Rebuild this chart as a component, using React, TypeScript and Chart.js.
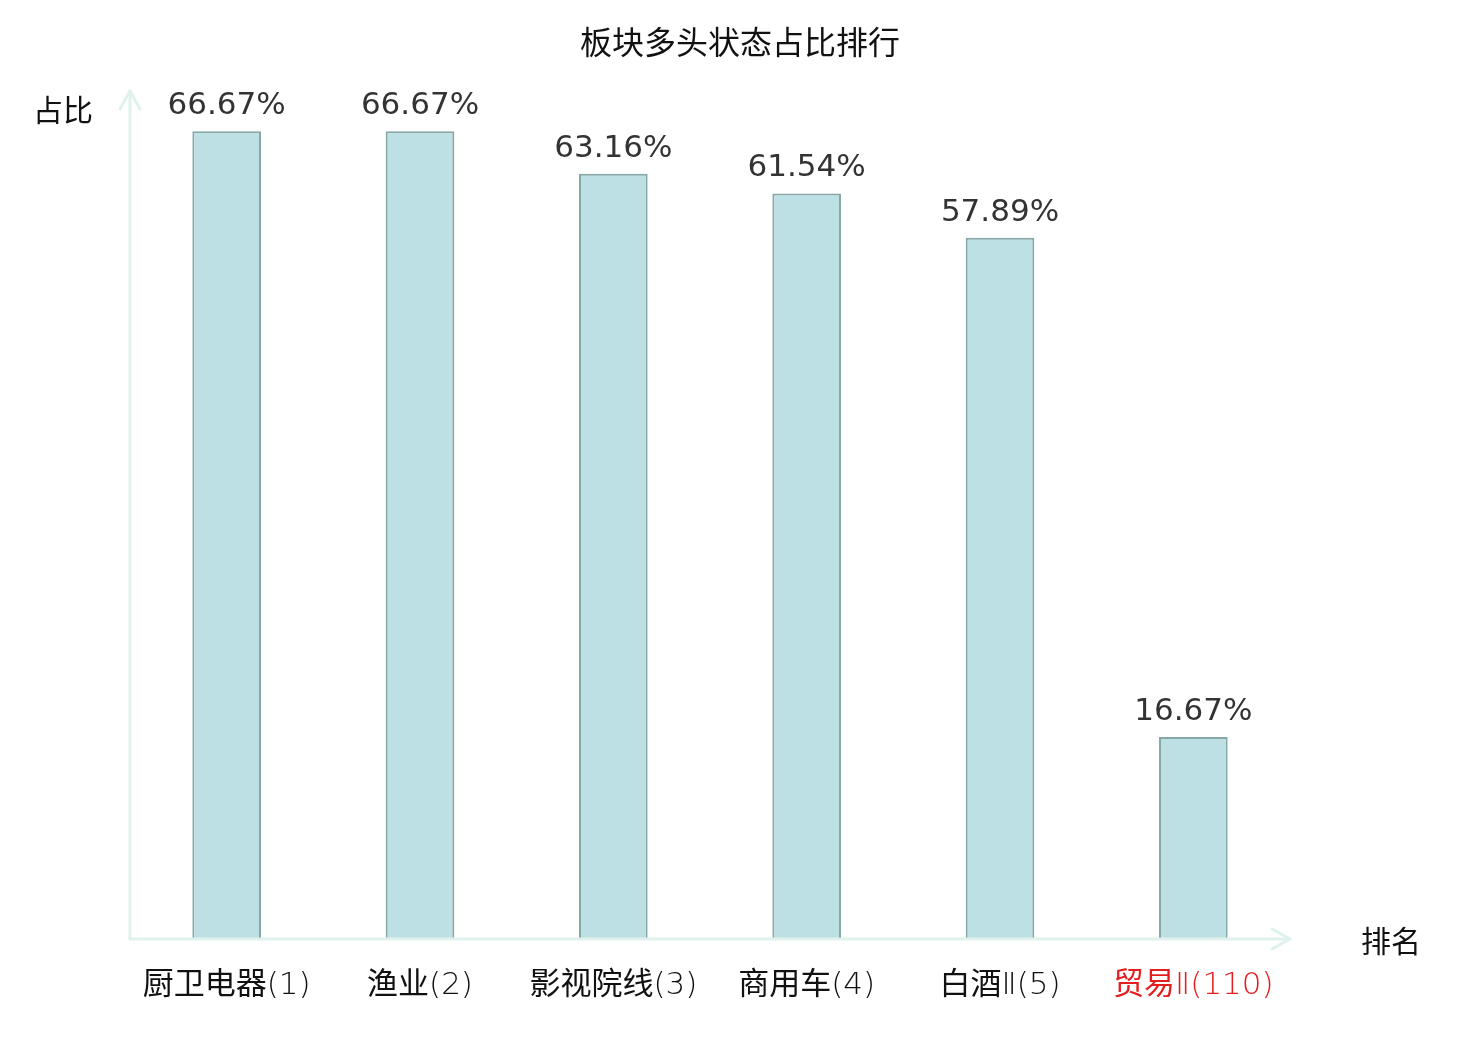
import { useEffect, useRef } from "react";
import { Chart, registerables } from "chart.js";
import type { ChartConfiguration, Plugin } from "chart.js";

Chart.register(...registerables);

const categories = ["厨卫电器(1)", "渔业(2)", "影视院线(3)", "商用车(4)", "白酒Ⅱ(5)", "贸易Ⅱ(110)"];
const shares = [66.67, 66.67, 63.16, 61.54, 57.89, 16.67];
const labelColors = ["#111", "#111", "#111", "#111", "#111", "#e41e1e"];

const CJK = "'Noto Sans CJK SC', 'DejaVu Sans', sans-serif";
const LATIN = "'DejaVu Sans', 'Noto Sans CJK SC', sans-serif";
const AXIS_COLOR = "#dff2ee";

// split a label into runs: ideographs in the CJK font, the rest in thin DejaVu
function runs(label: string) {
  const out: { text: string; cjk: boolean }[] = [];
  for (const ch of label) {
    const cjk = /[\u4e00-\u9fff]/.test(ch);
    const last = out[out.length - 1];
    if (last && last.cjk === cjk) last.text += ch;
    else out.push({ text: ch, cjk });
  }
  return out;
}

// title, axes with arrow heads, axis names, category labels and value labels
const decorPlugin: Plugin<"bar"> = {
  id: "decor",
  afterDatasetsDraw(chart) {
    const { ctx, chartArea, width } = chart;
    const { left, right, top, bottom } = chartArea;
    ctx.save();
    ctx.strokeStyle = AXIS_COLOR;
    ctx.lineWidth = 3;
    ctx.lineCap = "round";
    ctx.lineJoin = "round";
    ctx.beginPath();
    ctx.moveTo(left, bottom);
    ctx.lineTo(right, bottom);
    ctx.moveTo(left, bottom);
    ctx.lineTo(left, top);
    ctx.stroke();
    // arrows
    ctx.beginPath();
    ctx.moveTo(right - 18, bottom - 10);
    ctx.lineTo(right, bottom);
    ctx.lineTo(right - 18, bottom + 10);
    ctx.moveTo(left - 10, top + 18);
    ctx.lineTo(left, top);
    ctx.lineTo(left + 10, top + 18);
    ctx.stroke();

    ctx.fillStyle = "#111";
    ctx.textAlign = "center";
    ctx.textBaseline = "middle";
    ctx.font = `32px ${CJK}`;
    ctx.fillText("板块多头状态占比排行", width / 2, 42);
    ctx.font = `30px ${CJK}`;
    ctx.fillText("占比", left - 67, top + 19);
    ctx.fillText("排名", right + 101, bottom + 2);

    // category labels
    const xScale = chart.scales.x;
    const cjkFont = `31px ${CJK}`;
    const thinFont = `200 31px 'DejaVu Sans', sans-serif`;
    ctx.textAlign = "left";
    ctx.textBaseline = "alphabetic";
    categories.forEach((label, i) => {
      const parts = runs(label);
      let total = 0;
      const widths = parts.map((p) => {
        ctx.font = p.cjk ? cjkFont : thinFont;
        const w = ctx.measureText(p.text).width;
        total += w;
        return w;
      });
      let x = xScale.getPixelForTick(i) - total / 2;
      ctx.fillStyle = labelColors[i];
      parts.forEach((p, j) => {
        ctx.font = p.cjk ? cjkFont : thinFont;
        ctx.fillText(p.text, x, bottom + 55);
        x += widths[j];
      });
    });

    const meta = chart.getDatasetMeta(0);
    ctx.textAlign = "center";
    ctx.fillStyle = "#333";
    ctx.font = `31px ${LATIN}`;
    meta.data.forEach((bar, i) => {
      ctx.fillText(`${shares[i].toFixed(2)}%`, bar.x, bar.y - 17);
    });
    ctx.restore();
  },
};

export default function App() {
  const canvasRef = useRef<HTMLCanvasElement>(null);
  const chartRef = useRef<Chart<"bar"> | null>(null);

  useEffect(() => {
    if (!canvasRef.current) return;
    if (chartRef.current) chartRef.current.destroy();

    const config: ChartConfiguration<"bar"> = {
      type: "bar",
      data: {
        labels: categories,
        datasets: [
          {
            label: "占比",
            data: shares,
            backgroundColor: "#bce0e3",
            borderColor: "#87a6a6",
            borderWidth: 2,
            categoryPercentage: 1,
            barPercentage: 0.355,
          },
        ],
      },
      options: {
        responsive: true,
        maintainAspectRatio: false,
        animation: false,
        layout: { padding: { left: 130, right: 190, top: 91, bottom: 0 } },
        plugins: {
          legend: { display: false },
          tooltip: { enabled: false },
        },
        scales: {
          x: {
            grid: { display: false, drawTicks: false },
            border: { display: false },
            ticks: { display: false },
            afterFit(scale) {
              scale.height = 101;
            },
          },
          y: {
            display: false,
            min: 0,
            max: 70,
          },
        },
      },
      plugins: [decorPlugin],
    };

    chartRef.current = new Chart(canvasRef.current, config);
    return () => {
      chartRef.current?.destroy();
      chartRef.current = null;
    };
  }, []);

  return (
    <div style={{ position: "absolute", left: 0, top: 0, width: 1480, height: 1040, background: "#fff" }}>
      <canvas ref={canvasRef}></canvas>
    </div>
  );
}
